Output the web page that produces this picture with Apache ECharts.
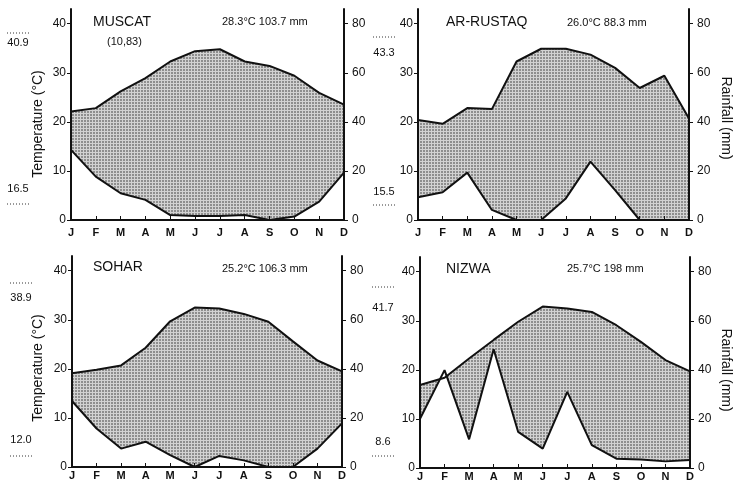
<!DOCTYPE html>
<html>
<head>
<meta charset="utf-8">
<title>Climate diagrams</title>
<script src="https://cdn.jsdelivr.net/npm/echarts@6/dist/echarts.min.js"></script>
<style>
  html, body { margin: 0; padding: 0; background: #fff; }
  #main { width: 734px; height: 490px; }
</style>
</head>
<body>
<div id="main"></div>
<script type="text/javascript">
// month letters on the x axis
var months = ['J', 'F', 'M', 'A', 'M', 'J', 'J', 'A', 'S', 'O', 'N', 'D'];

// mean monthly temperature (°C, left scale) and rainfall (mm, right scale)
var muscatTemp = [22.1, 22.8, 26.2, 28.9, 32.3, 34.4, 34.8, 32.3, 31.4, 29.4, 25.9, 23.5];
var muscatRain = [28.6, 17.7, 10.9, 8.2, 2.0, 1.6, 1.6, 2.0, 0, 1.4, 7.5, 19.3];

var rustaqTemp = [20.4, 19.6, 22.8, 22.6, 32.3, 34.9, 34.9, 33.7, 31.0, 26.9, 29.4, 20.7];
var rustaqRain = [9.3, 11.3, 19.3, 4.1, 0, 0, 8.8, 23.8, 12.2, 0, 0, 0];

var soharTemp = [19.1, 19.8, 20.7, 24.3, 29.7, 32.5, 32.3, 31.2, 29.6, 25.6, 21.7, 19.5];
var soharRain = [26.9, 15.7, 7.5, 10.3, 4.8, 0, 4.5, 2.7, 0, 0, 7.5, 17.8];

var nizwaTemp = [16.9, 18.4, 22.3, 26.1, 29.8, 32.9, 32.5, 31.8, 29.1, 25.7, 22.0, 19.7];
var nizwaRain = [20.1, 39.9, 11.7, 48.4, 14.7, 7.9, 31.0, 9.3, 3.8, 3.5, 2.7, 3.3];

var stationNames = ['MUSCAT', 'AR-RUSTAQ', 'SOHAR', 'NIZWA'];
var stationMeans = ['28.3°C 103.7 mm', '26.0°C 88.3 mm', '25.2°C 106.3 mm', '25.7°C 198 mm'];
var absMax = ['40.9', '43.3', '38.9', '41.7'];
var absMin = ['16.5', '15.5', '12.0', '8.6'];
var tempTicks = [0, 10, 20, 30, 40];
var rainTicks = [0, 20, 40, 60, 80];

var temps = [muscatTemp, rustaqTemp, soharTemp, nizwaTemp];
var rains = [muscatRain, rustaqRain, soharRain, nizwaRain];

// panel boxes
var boxes = [
    { left: 71, top: 9, width: 273, height: 211 },
    { left: 418, top: 9, width: 271, height: 211 },
    { left: 72, top: 256, width: 270, height: 211 },
    { left: 420, top: 257, width: 270, height: 211 }
];

var FONT = '"Liberation Sans", Arial, Helvetica, sans-serif';

// stippled fill like the printed dot screen
function stipple() {
    var c = document.createElement('canvas');
    c.width = 3; c.height = 3;
    var g = c.getContext('2d');
    g.fillStyle = '#d2d2d2';
    g.fillRect(0, 0, 3, 3);
    g.fillStyle = '#8e8e8e';
    g.fillRect(0, 0, 2, 2);
    return c;
}
var pattern = { image: stipple(), repeat: 'repeat' };

var chart = echarts.init(document.getElementById('main'), null, { renderer: 'canvas' });

var grids = [], xAxes = [], yAxes = [], series = [], graphics = [];

for (var i = 0; i < 4; i++) {
    var b = boxes[i];
    grids.push({ left: b.left, top: b.top, width: b.width, height: b.height, containLabel: false });
    xAxes.push({
        type: 'value', gridIndex: i, min: 0, max: 11, interval: 1, z: 5,
        axisLine: { lineStyle: { color: '#111', width: 2 } },
        axisTick: { inside: true, length: 4, lineStyle: { color: '#111', width: 1 } },
        splitLine: { show: false },
        axisLabel: {
            color: '#111', fontFamily: FONT, fontSize: 11, fontWeight: 'bold', margin: i < 2 ? 7 : 3,
            formatter: function (v) { return months[v] || ''; }
        }
    });
    yAxes.push({
        type: 'value', gridIndex: i, position: 'left', min: 0, max: 43, z: 5,
        axisLine: { show: true, onZero: false, lineStyle: { color: '#111', width: 2 } },
        axisTick: { show: true, length: 4, customValues: tempTicks, lineStyle: { color: '#111' } },
        splitLine: { show: false },
        axisLabel: { color: '#111', fontFamily: FONT, fontSize: 12, margin: 5, customValues: tempTicks }
    });
    yAxes.push({
        type: 'value', gridIndex: i, position: 'right', min: 0, max: 86, z: 5,
        axisLine: { show: true, onZero: false, lineStyle: { color: '#111', width: 2 } },
        axisTick: { show: true, length: 4, customValues: rainTicks, lineStyle: { color: '#111' } },
        splitLine: { show: false },
        axisLabel: { color: '#111', fontFamily: FONT, fontSize: 12, margin: 8, customValues: rainTicks }
    });

    var tData = temps[i].map(function (v, k) { return [k, v]; });
    var rData = rains[i].map(function (v, k) { return [k, v]; });

    // stippled area under the temperature curve
    series.push({
        type: 'line', xAxisIndex: i, yAxisIndex: 2 * i, data: tData, z: 1,
        symbol: 'none', silent: true,
        lineStyle: { width: 0 },
        areaStyle: { color: pattern, opacity: 1 }
    });
    // rainfall curve, white below it
    series.push({
        type: 'line', xAxisIndex: i, yAxisIndex: 2 * i + 1, data: rData, z: 2,
        symbol: 'none', silent: true,
        lineStyle: { color: '#111', width: 2 },
        areaStyle: { color: '#fff', opacity: 1 }
    });
    // temperature curve
    series.push({
        type: 'line', xAxisIndex: i, yAxisIndex: 2 * i, data: tData, z: 3,
        symbol: 'none', silent: true,
        lineStyle: { color: '#111', width: 2 }
    });
}

function txt(x, y, s, size, align, rot) {
    graphics.push({
        type: 'text', x: x, y: y, rotation: rot || 0, z: 10,
        style: {
            text: s, fill: '#111', font: size + 'px ' + FONT,
            textAlign: align || 'left', textVerticalAlign: 'middle',
            align: align || 'left', verticalAlign: 'middle'
        }
    });
}
function dots(x1, x2, y) {
    graphics.push({
        type: 'line', z: 10,
        shape: { x1: x1, y1: y, x2: x2, y2: y },
        style: { stroke: '#333', lineWidth: 1, lineDash: [1, 2] }
    });
}

// station names and annual means
var nameX = [93, 446, 93, 446], nameY = [22, 22, 267, 269];
var meanX = [222, 567, 222, 567], meanY = [22, 23, 269, 269];
for (var j = 0; j < 4; j++) {
    txt(nameX[j], nameY[j], stationNames[j], 14, 'left');
    txt(meanX[j], meanY[j], stationMeans[j], 11, 'left');
}
txt(107, 42, '(10,83)', 11, 'left');

// absolute extremes on the left of each panel
var extX = [18, 384, 21, 383];
var maxDotY = [33, 37, 283, 287], maxTxtY = [43, 53, 298, 308];
var minTxtY = [189, 192, 440, 442], minDotY = [204, 205, 456, 456];
for (var m = 0; m < 4; m++) {
    dots(extX[m] - 11, extX[m] + 12, maxDotY[m]);
    txt(extX[m], maxTxtY[m], absMax[m], 11, 'center');
    txt(extX[m], minTxtY[m], absMin[m], 11, 'center');
    dots(extX[m] - 11, extX[m] + 13, minDotY[m]);
}

// axis titles
txt(38, 124, 'Temperature (°C)', 14, 'center', Math.PI / 2);
txt(38, 368, 'Temperature (°C)', 14, 'center', Math.PI / 2);
txt(726, 118, 'Rainfall (mm)', 14, 'center', -Math.PI / 2);
txt(726, 370, 'Rainfall (mm)', 14, 'center', -Math.PI / 2);

chart.setOption({
    animation: false,
    backgroundColor: '#fff',
    grid: grids,
    xAxis: xAxes,
    yAxis: yAxes,
    series: series,
    graphic: graphics
});
</script>
</body>
</html>
